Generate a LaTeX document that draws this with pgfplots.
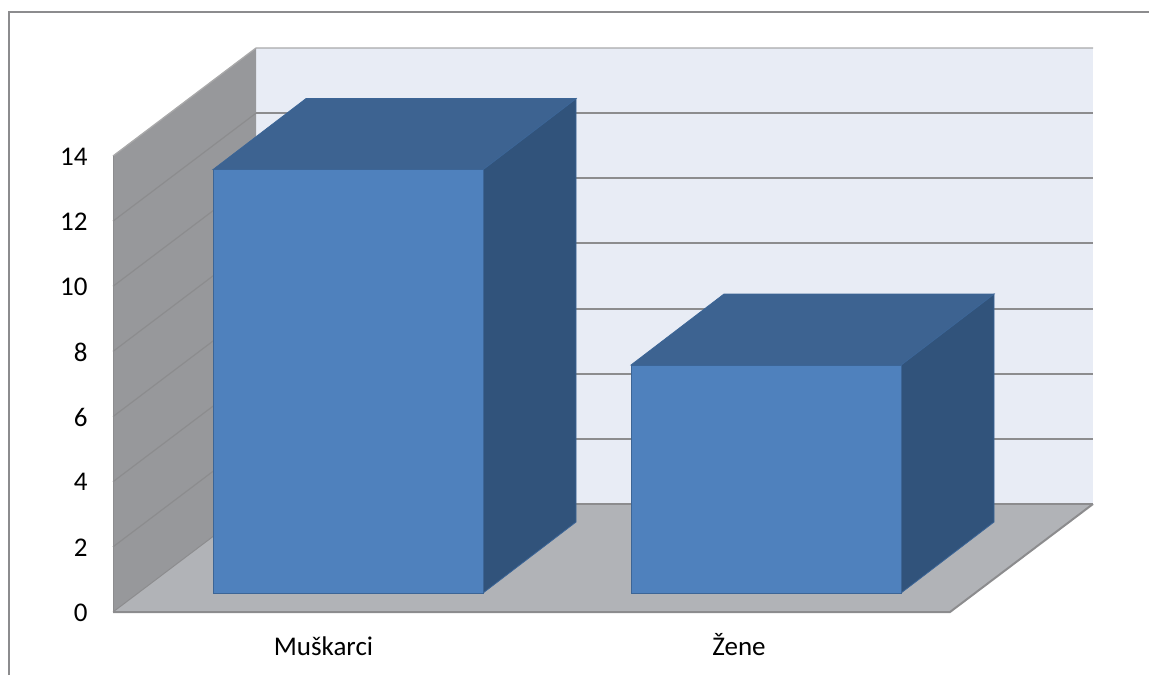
\documentclass[border=0pt]{standalone}
\usepackage{fontspec}
\setmainfont{Carlito}
\usepackage{pgfplots}
\pgfplotsset{compat=1.18}
\definecolor{wallL}{HTML}{97989B}
\definecolor{wallB}{HTML}{E8ECF5}
\definecolor{floorc}{HTML}{B1B3B7}
\definecolor{gridc}{HTML}{8C8C8E}
\definecolor{front}{HTML}{4F81BD}
\definecolor{topc}{HTML}{3D6391}
\definecolor{sidec}{HTML}{31537B}
\definecolor{edgec}{HTML}{3C6596}
\begin{document}
\begin{tikzpicture}
\begin{axis}[
  scale only axis, width=1149pt, height=675pt,
  xmin=0, xmax=1149, ymin=-1.934, ymax=18.790,
  axis line style={draw=none}, major tick length=0pt,
  tick style={draw=none},
  ytick={0,2,4,6,8,10,12,14},
  xtick={323.5,739}, xticklabels={Muškarci,Žene},
  /pgf/number format/assume math mode=true,
  tick label style={font=\fontsize{27}{30}\selectfont, text=black},
  yticklabel style={anchor=east, xshift=91pt, yshift=-0.5pt},
  xticklabel style={anchor=base, yshift=19.5pt},
  clip=false,
]
% chart frame
\addplot[draw=gridc, line width=1.7pt] coordinates {(9,-1.934) (9,18.42) (1149,18.42)};
% back wall
\addplot[fill=wallB, draw=none] coordinates {(256,3.316) (256,17.316) (1093,17.316) (1093,3.316)} -- cycle;
% left wall
\addplot[fill=wallL, draw=none] coordinates {(113,0) (113,14) (256,17.316) (256,3.316)} -- cycle;
% floor
\addplot[fill=floorc, draw=none] coordinates {(113,0) (256,3.316) (1093,3.316) (950,0)} -- cycle;
% gridlines on the walls
\addplot[draw=gridc!75!white, line width=1.3pt] coordinates {(113,14) (256,17.316) (1093,17.316)};
\addplot[draw=gridc, line width=2pt] coordinates {(256,15.316) (1093,15.316)};
\addplot[draw=gridc, line width=2pt] coordinates {(256,13.316) (1093,13.316)};
\addplot[draw=gridc, line width=2pt] coordinates {(256,11.316) (1093,11.316)};
\addplot[draw=gridc, line width=2pt] coordinates {(256,9.316) (1093,9.316)};
\addplot[draw=gridc, line width=2pt] coordinates {(256,7.316) (1093,7.316)};
\addplot[draw=gridc, line width=2pt] coordinates {(256,5.316) (1093,5.316)};
\addplot[draw=gridc, line width=2pt] coordinates {(256,3.316) (1093,3.316)};
\addplot[draw=gridc, line width=1.2pt] coordinates {(113,12) (256,15.316)};
\addplot[draw=gridc, line width=1.2pt] coordinates {(113,10) (256,13.316)};
\addplot[draw=gridc, line width=1.2pt] coordinates {(113,8) (256,11.316)};
\addplot[draw=gridc, line width=1.2pt] coordinates {(113,6) (256,9.316)};
\addplot[draw=gridc, line width=1.2pt] coordinates {(113,4) (256,7.316)};
\addplot[draw=gridc, line width=1.2pt] coordinates {(113,2) (256,5.316)};
\addplot[draw=gridc, line width=1pt] coordinates {(113,0) (256,3.316)};
\addplot[draw=gridc, line width=1pt] coordinates {(113,0) (113,14)};
\addplot[draw=gridc, line width=2pt] coordinates {(113,0) (950,0) (1093,3.316)};
% bar 1: value 13, base lifted 0.583 by the depth gap
\addplot[fill=sidec, draw=edgec, line width=.8pt] coordinates {(483,0.583) (483,13.583) (576,15.763) (576,2.763)} -- cycle;
\addplot[fill=topc, draw=edgec, line width=.8pt] coordinates {(213,13.583) (306,15.763) (576,15.763) (483,13.583)} -- cycle;
\addplot[fill=front, draw=edgec, line width=1pt] coordinates {(213,0.583) (213,13.583) (483,13.583) (483,0.583)} -- cycle;
% bar 2: value 7
\addplot[fill=sidec, draw=edgec, line width=.8pt] coordinates {(901,0.583) (901,7.583) (994,9.763) (994,2.763)} -- cycle;
\addplot[fill=topc, draw=edgec, line width=.8pt] coordinates {(631,7.583) (724,9.763) (994,9.763) (901,7.583)} -- cycle;
\addplot[fill=front, draw=edgec, line width=1pt] coordinates {(631,0.583) (631,7.583) (901,7.583) (901,0.583)} -- cycle;
\end{axis}
\pgfresetboundingbox
\path[use as bounding box] (0,0) rectangle (1149pt,675pt);
\end{tikzpicture}
\end{document}
